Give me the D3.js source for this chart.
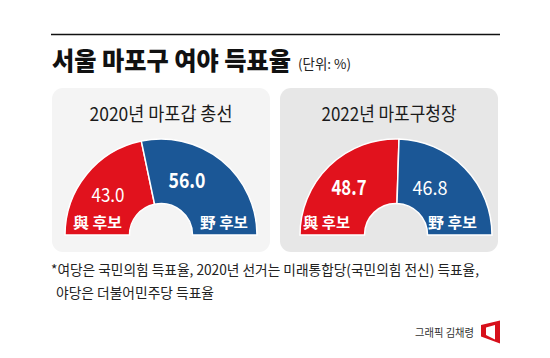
<!DOCTYPE html>
<html><head><meta charset="utf-8">
<script src="https://cdn.jsdelivr.net/npm/d3@7"></script>
<style>
body{margin:0;background:#fff}
svg{display:block}
text{font-family:"Noto Sans CJK KR","Noto Sans",sans-serif}
</style>
</head><body>
<svg id="c" width="550" height="358"></svg>
<script>
// ---- data ----
const panelTitles = ["2020년 마포갑 총선", "2022년 마포구청장"];
const partyLabels = ["與 후보", "野 후보"];
const rulingValues = [43.0, 48.7];
const oppositionValues = [56.0, 46.8];
const seriesColors = ["#e1121d", "#1b5796"];
const panelFills = ["#f4f4f4", "#e7e7e7"];
const titleText = "서울 마포구 여야 득표율";
const unitText = "(단위: %)";
const noteLines = ["*여당은 국민의힘 득표율, 2020년 선거는 미래통합당(국민의힘 전신) 득표율,",
                   "야당은 더불어민주당 득표율"];
const creditText = "그래픽 김채령";

// ---- layout ----
const svg = d3.select("#c");
const panelX = [52, 280], panelY = 88, panelW = 218, panelH = 164;
const centers = [161, 396], cy = 235;
const rOuter = 96, rInner = 31.5;
const valuePos = [[{x:108,y:202,w:33},{x:187,y:188,w:37}],
                  [{x:349,y:195,w:35},{x:430,y:195,w:35}]];
const labelPos = [[{x:97.5,w:49},{x:224,w:48}],[{x:326.5,w:47},{x:452.5,w:49}]];

// top rule
svg.append("line").attr("x1",51).attr("x2",500).attr("y1",34.5).attr("y2",34.5)
  .attr("stroke","#111").attr("stroke-width",1.6);

svg.append("text").attr("x",52).attr("y",70).attr("font-size",25).attr("font-weight",900)
  .attr("fill","#111").attr("textLength",239).attr("lengthAdjust","spacingAndGlyphs").text(titleText);
svg.append("text").attr("x",298).attr("y",69).attr("font-size",13.5).attr("fill","#222")
  .attr("textLength",53).attr("lengthAdjust","spacingAndGlyphs").text(unitText);

const pie = d3.pie().sort(null).startAngle(-Math.PI/2).endAngle(Math.PI/2);
const arc = d3.arc().innerRadius(rInner).outerRadius(rOuter);

panelTitles.forEach((t,i)=>{
  svg.append("rect").attr("x",panelX[i]).attr("y",panelY).attr("width",panelW).attr("height",panelH)
    .attr("rx",11).attr("fill",panelFills[i]);
  svg.append("text").attr("x",panelX[i]+panelW/2).attr("y",120.5).attr("text-anchor","middle")
    .attr("font-size",19).attr("fill","#1a1a1a")
    .attr("textLength",i===0?143:135).attr("lengthAdjust","spacingAndGlyphs").text(t);

  const vals = [rulingValues[i], oppositionValues[i]];
  const g = svg.append("g").attr("transform",`translate(${centers[i]},${cy})`);
  g.selectAll("path").data(pie(vals)).join("path")
    .attr("d",arc).attr("fill",(d,j)=>seriesColors[j])
    .attr("stroke","#fff").attr("stroke-width",1.5);

  const winner = vals[0] > vals[1] ? 0 : 1;
  vals.forEach((v,j)=>{
    const p = valuePos[i][j];
    svg.append("text").attr("x",p.x).attr("y",p.y).attr("text-anchor","middle")
      .attr("font-size", j===winner?21:19).attr("font-weight", j===winner?700:400)
      .attr("fill","#fff").attr("textLength",p.w).attr("lengthAdjust","spacingAndGlyphs")
      .text(d3.format(".1f")(v));
    const lp = labelPos[i][j];
    svg.append("text").attr("x",lp.x).attr("y",228).attr("text-anchor","middle")
      .attr("font-size",14.5).attr("font-weight",700).attr("fill","#fff")
      .attr("textLength",lp.w).attr("lengthAdjust","spacingAndGlyphs").text(partyLabels[j]);
  });
});

// footnote
svg.append("text").attr("x",51).attr("y",275).attr("font-size",14).attr("fill","#222")
  .attr("textLength",428).attr("lengthAdjust","spacingAndGlyphs").text(noteLines[0]);
svg.append("text").attr("x",56).attr("y",297.5).attr("font-size",14).attr("fill","#222")
  .attr("textLength",158).attr("lengthAdjust","spacingAndGlyphs").text(noteLines[1]);

// credit
svg.append("text").attr("x",415).attr("y",337).attr("font-size",11).attr("fill","#333")
  .attr("textLength",59).attr("lengthAdjust","spacingAndGlyphs").text(creditText);
svg.append("path")
  .attr("d","M481,325 L500,320.5 L500,343.5 L481,336.5 Z M486,327.5 L495,325 L495,339.5 L486,335 Z")
  .attr("fill","#d7101b").attr("fill-rule","evenodd");
</script>
</body></html>
